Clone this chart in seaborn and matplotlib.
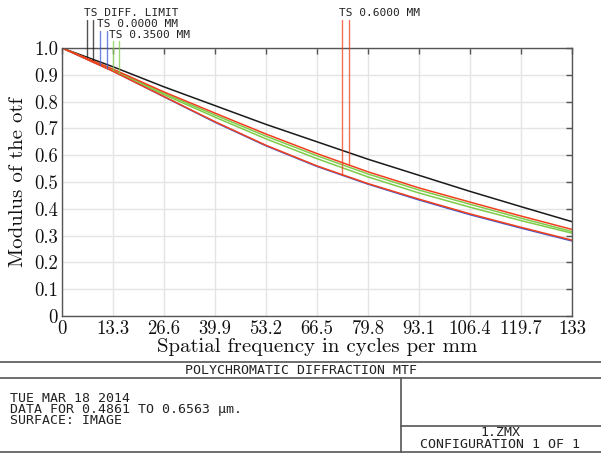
import numpy as np
import pandas as pd
import matplotlib
matplotlib.use("Agg")
import matplotlib.pyplot as plt
from matplotlib.lines import Line2D
import seaborn as sns

# ---------------- data ----------------
freq = [0, 13.3, 26.6, 39.9, 53.2, 66.5, 79.8, 93.1, 106.4, 119.7, 133]
mtf_diff = [1.0, 0.930, 0.855, 0.785, 0.715, 0.650, 0.585, 0.525, 0.465, 0.408, 0.352]
mtf_000 = [1.0, 0.914, 0.818, 0.723, 0.635, 0.558, 0.492, 0.433, 0.378, 0.328, 0.280]
mtf_035_t = [1.0, 0.919, 0.831, 0.750, 0.671, 0.598, 0.530, 0.470, 0.417, 0.365, 0.315]
mtf_035_s = [1.0, 0.917, 0.826, 0.742, 0.661, 0.587, 0.519, 0.459, 0.406, 0.356, 0.309]
mtf_060_t = [1.0, 0.921, 0.836, 0.757, 0.679, 0.606, 0.538, 0.478, 0.425, 0.373, 0.323]
mtf_060_s = [1.0, 0.913, 0.819, 0.725, 0.637, 0.560, 0.494, 0.436, 0.381, 0.331, 0.283]

x_ticks = [0, 13.3, 26.6, 39.9, 53.2, 66.5, 79.8, 93.1, 106.4, 119.7, 133]
x_ticklabels = ["0", "13.3", "26.6", "39.9", "53.2", "66.5", "79.8", "93.1", "106.4", "119.7", "133"]
y_ticks = [0, 0.1, 0.2, 0.3, 0.4, 0.5, 0.6, 0.7, 0.8, 0.9, 1.0]
y_ticklabels = ["0", "0.1", "0.2", "0.3", "0.4", "0.5", "0.6", "0.7", "0.8", "0.9", "1.0"]

legend_labels = ["TS DIFF. LIMIT", "TS 0.0000 MM", "TS 0.3500 MM", "TS 0.6000 MM"]
marker_freqs = [6.4, 8.2, 9.9, 11.7, 13.2, 14.9, 73.1, 74.8]

title_text = "POLYCHROMATIC DIFFRACTION MTF"
info_lines = ["TUE MAR 18 2014", "DATA FOR 0.4861 TO 0.6563 \u00b5m.", "SURFACE: IMAGE"]
file_text = "1.ZMX"
config_text = "CONFIGURATION 1 OF 1"

# ---------------- style ----------------
sns.set_theme(style="white")
plt.rcParams["font.family"] = ["cmr10", "DejaVu Serif"]
plt.rcParams["axes.formatter.use_mathtext"] = True

W, H = 601, 455
fig = plt.figure(figsize=(W / 100, H / 100), dpi=100)
fig.patch.set_facecolor("white")

def fx(px):
    return px / W

def fy(py):
    return 1 - py / H

ax_l, ax_r, ax_t, ax_b = 62, 572, 48, 316
ax = fig.add_axes([fx(ax_l), fy(ax_b), (ax_r - ax_l) / W, (ax_b - ax_t) / H])
ax.set_facecolor("white")

c_black = "#1a1a1a"
c_blue = "#3d5bd6"
c_green = "#7fcc4a"
c_red = "#f0401e"

series = [
    (mtf_diff, c_black),
    (mtf_000, c_blue),
    (mtf_035_t, c_green),
    (mtf_035_s, c_green),
    (mtf_060_t, c_red),
    (mtf_060_s, c_red),
]
for vals, col in series:
    df = pd.DataFrame({"f": freq, "m": vals})
    sns.lineplot(data=df, x="f", y="m", ax=ax, color=col, linewidth=1.1,
                 estimator=None, sort=False)

ax.set_xlim(0, 133)
ax.set_ylim(0, 1)
ax.set_xticks(x_ticks)
ax.set_xticklabels(x_ticklabels)
ax.set_yticks(y_ticks)
ax.set_yticklabels(y_ticklabels)
ax.grid(True, color="#e4e4e4", linewidth=1.0)
ax.tick_params(direction="in", length=4, width=1, color="#555555",
               top=True, right=True, labelsize=13.5, pad=3, labelcolor="#111111")
for s in ax.spines.values():
    s.set_color("#555555")
    s.set_linewidth(1.0)
    s.set_visible(True)

ax.set_xlabel("Spatial frequency in cycles per mm", fontsize=15, color="#111111")
ax.set_ylabel("Modulus of the otf", fontsize=15, color="#111111")
ax.xaxis.label.set_va("center")
ax.xaxis.set_label_coords(0.5, (ax_b - 347) / (ax_b - ax_t))
ax.yaxis.label.set_va("center")
ax.yaxis.set_label_coords((18 - ax_l) / (ax_r - ax_l), 0.5)

# ---------------- legend marker lines ----------------
def top_val(py):
    return (ax_b - py) / (ax_b - ax_t)

marker_series = [
    (mtf_diff, c_black, top_val(20)),
    (mtf_diff, c_black, top_val(20)),
    (mtf_000, c_blue, top_val(31)),
    (mtf_000, c_blue, top_val(31)),
    (mtf_035_s, c_green, top_val(41)),
    (mtf_035_t, c_green, top_val(41)),
    (mtf_060_s, c_red, top_val(20)),
    (mtf_060_t, c_red, top_val(20)),
]
for f0, (vals, col, top) in zip(marker_freqs, marker_series):
    v = float(np.interp(f0, freq, vals))
    ax.plot([f0, f0], [top, v], color=col, linewidth=1.0, alpha=0.75,
            clip_on=False, zorder=5)

mono = "DejaVu Sans Mono"
fig.text(fx(84), fy(13.3), legend_labels[0], family=mono, fontsize=8, va="center", ha="left", color="#222222")
fig.text(fx(97), fy(24), legend_labels[1], family=mono, fontsize=8, va="center", ha="left", color="#222222")
fig.text(fx(109), fy(34.7), legend_labels[2], family=mono, fontsize=8, va="center", ha="left", color="#222222")
fig.text(fx(339), fy(13.3), legend_labels[3], family=mono, fontsize=8, va="center", ha="left", color="#222222")

# ---------------- title block ----------------
lc = "#555555"
lw = 1.2
for (x0, y0, x1, y1) in [(0, 362, 601, 362), (0, 378, 601, 378), (400.7, 378, 400.7, 452),
                         (400.7, 425.7, 601, 425.7), (0, 452, 601, 452)]:
    fig.add_artist(Line2D([fx(x0), fx(x1)], [fy(y0), fy(y1)], color=lc, linewidth=lw,
                          transform=fig.transFigure))

bs = 9.5
fig.text(fx(301), fy(370), title_text, family=mono, fontsize=bs, ha="center", va="center", color="#222222")
for txt, yy in zip(info_lines, [398, 409.5, 421]):
    fig.text(fx(10), fy(yy), txt, family=mono, fontsize=bs, ha="left", va="center", color="#222222")
fig.text(fx(500), fy(433), file_text, family=mono, fontsize=bs, ha="center", va="center", color="#222222")
fig.text(fx(500), fy(444.7), config_text, family=mono, fontsize=bs, ha="center", va="center", color="#222222")

fig.savefig("out.png", dpi=100, facecolor="white")
